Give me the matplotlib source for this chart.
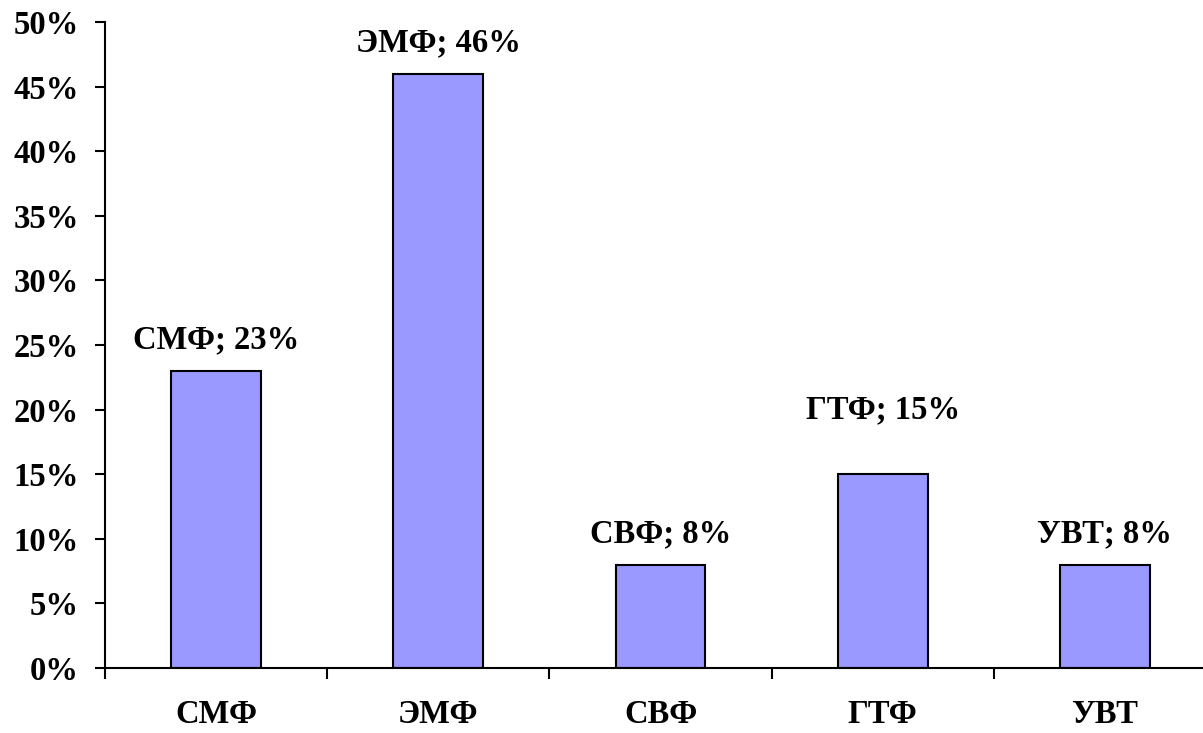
import matplotlib.pyplot as plt
from matplotlib.ticker import FixedLocator, PercentFormatter

categories = ['СМФ', 'ЭМФ', 'СВФ', 'ГТФ', 'УВТ']
values = [23, 46, 8, 15, 8]
yticks = list(range(0, 55, 5))

plt.rcParams['font.family'] = ['Liberation Serif', 'DejaVu Serif']
plt.rcParams['font.weight'] = 'bold'

fig = plt.figure(figsize=(12.03, 7.33), dpi=100)
ax = fig.add_axes([105 / 1203, 65 / 733, 1111 / 1203, 646 / 733])

x = list(range(len(categories)))
ax.bar(x, values, width=0.405, color='#9999FF', edgecolor='black', linewidth=1.5)

for i, (c, v) in enumerate(zip(categories, values)):
    off = 64 if c == 'ГТФ' else 31
    ax.annotate(f'{c}; {v}%', (i, v), xytext=(0, off * 0.72), textcoords='offset points',
                ha='center', va='center', fontsize=23.5, fontweight='bold')

ax.set_xlim(-0.5, len(categories) - 0.5)
ax.set_ylim(0, 50)
ax.set_yticks(yticks)
ax.yaxis.set_major_formatter(PercentFormatter(decimals=0))
ax.set_xticks(x)
ax.set_xticklabels(categories)
ax.xaxis.set_minor_locator(FixedLocator([i - 0.5 for i in range(len(categories) + 1)]))

ax.tick_params(axis='x', which='major', length=0, pad=22, labelsize=23.5)
ax.tick_params(axis='x', which='minor', length=8, width=1.5, direction='out')
ax.tick_params(axis='y', length=7, width=1.5, direction='out', pad=12, labelsize=23.5)

for s in ['top', 'right']:
    ax.spines[s].set_visible(False)
for s in ['left', 'bottom']:
    ax.spines[s].set_linewidth(1.5)

fig.savefig('out.png', dpi=100)
